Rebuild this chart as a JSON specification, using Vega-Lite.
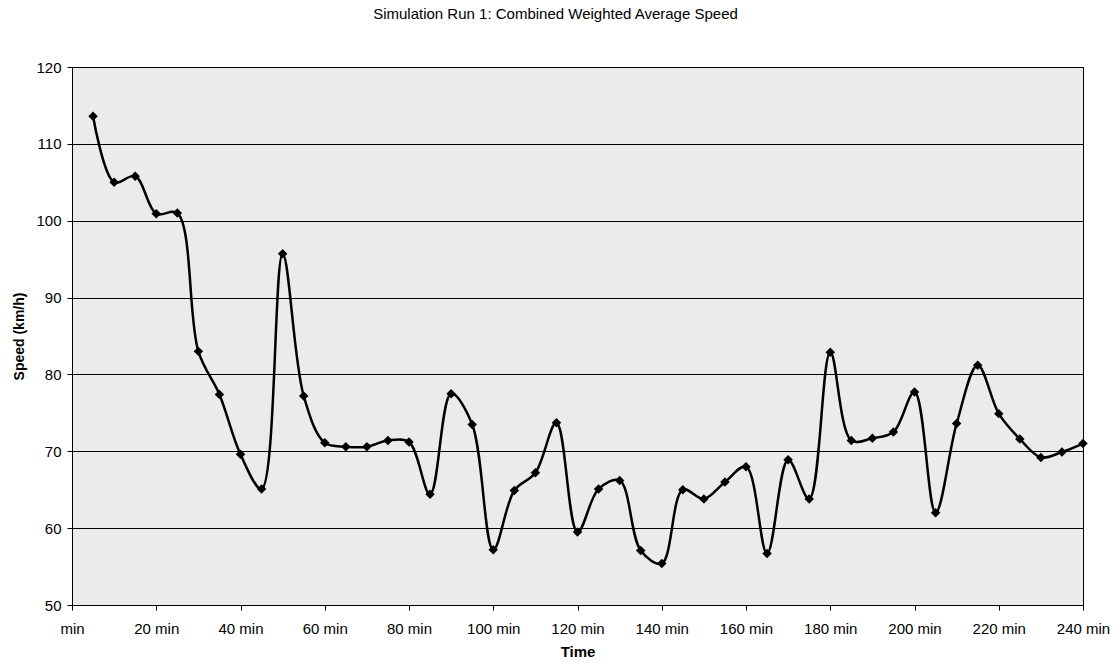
{
  "$schema": "https://vega.github.io/schema/vega-lite/v6.json",
  "autosize": {"type": "none"},
  "width": 1011,
  "height": 538,
  "padding": {"left": 72, "top": 67, "right": 37, "bottom": 60},
  "background": "white",
  "config": {
    "font": "Liberation Sans",
    "view": {"stroke": "black", "strokeWidth": 1, "fill": "#ebebeb"}
  },
  "title": {
    "text": "Simulation Run 1: Combined Weighted Average Speed",
    "fontSize": 15,
    "fontWeight": "normal",
    "font": "Liberation Sans",
    "color": "black",
    "offset": 38,
    "dx": -22,
    "anchor": "middle"
  },
  "data": {
    "values": [
      {"t": 5, "v": 113.6}, {"t": 10, "v": 105.0}, {"t": 15, "v": 105.8}, {"t": 20, "v": 100.9},
      {"t": 25, "v": 101.0}, {"t": 30, "v": 83.0}, {"t": 35, "v": 77.4}, {"t": 40, "v": 69.6},
      {"t": 45, "v": 65.1}, {"t": 50, "v": 95.7}, {"t": 55, "v": 77.2}, {"t": 60, "v": 71.1},
      {"t": 65, "v": 70.6}, {"t": 70, "v": 70.6}, {"t": 75, "v": 71.4}, {"t": 80, "v": 71.2},
      {"t": 85, "v": 64.4}, {"t": 90, "v": 77.5}, {"t": 95, "v": 73.5}, {"t": 100, "v": 57.2},
      {"t": 105, "v": 64.9}, {"t": 110, "v": 67.2}, {"t": 115, "v": 73.7}, {"t": 120, "v": 59.5},
      {"t": 125, "v": 65.1}, {"t": 130, "v": 66.2}, {"t": 135, "v": 57.1}, {"t": 140, "v": 55.4},
      {"t": 145, "v": 65.0}, {"t": 150, "v": 63.8}, {"t": 155, "v": 66.0}, {"t": 160, "v": 68.0},
      {"t": 165, "v": 56.7}, {"t": 170, "v": 68.9}, {"t": 175, "v": 63.8}, {"t": 180, "v": 82.9},
      {"t": 185, "v": 71.4}, {"t": 190, "v": 71.7}, {"t": 195, "v": 72.5}, {"t": 200, "v": 77.7},
      {"t": 205, "v": 62.0}, {"t": 210, "v": 73.6}, {"t": 215, "v": 81.2}, {"t": 220, "v": 74.9},
      {"t": 225, "v": 71.6}, {"t": 230, "v": 69.2}, {"t": 235, "v": 69.9}, {"t": 240, "v": 71.0}
    ]
  },
  "encoding": {
    "x": {
      "field": "t",
      "type": "quantitative",
      "scale": {"domain": [0, 240], "nice": false, "zero": false},
      "axis": {
        "title": "Time",
        "titleFontWeight": "bold",
        "titleFontSize": 15,
        "titleColor": "black",
        "titlePadding": 8,
        "values": [0, 20, 40, 60, 80, 100, 120, 140, 160, 180, 200, 220, 240],
        "labelExpr": "datum.value == 0 ? 'min' : datum.value + ' min'",
        "labelFontSize": 15,
        "labelColor": "black",
        "labelPadding": 11,
        "labelOverlap": false,
        "labelFlush": false,
        "labelBound": false,
        "tickColor": "black",
        "tickSize": 5,
        "domainColor": "black",
        "grid": false
      }
    },
    "y": {
      "field": "v",
      "type": "quantitative",
      "scale": {"domain": [50, 120], "nice": false, "zero": false},
      "axis": {
        "title": "Speed (km/h)",
        "titleFontWeight": "bold",
        "titleFontSize": 14,
        "titleColor": "black",
        "titlePadding": 9,
        "values": [50, 60, 70, 80, 90, 100, 110, 120],
        "labelFontSize": 15,
        "labelColor": "black",
        "labelPadding": 6,
        "labelFlush": false,
        "tickColor": "black",
        "tickSize": 5,
        "domainColor": "black",
        "grid": true,
        "gridColor": "black",
        "gridWidth": 1,
        "gridOpacity": 1
      }
    }
  },
  "layer": [
    {
      "mark": {"type": "line", "interpolate": "catmull-rom", "color": "black", "strokeWidth": 2.5}
    },
    {
      "mark": {"type": "point", "shape": "diamond", "filled": true, "color": "black", "size": 90, "opacity": 1}
    }
  ]
}
